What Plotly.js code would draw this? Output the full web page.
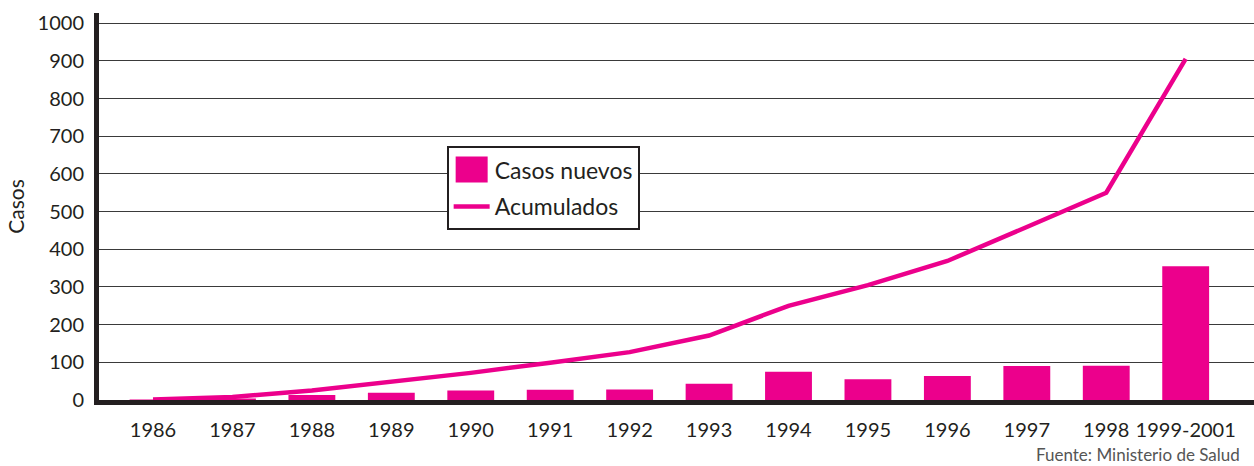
<!DOCTYPE html>
<html>
<head>
<meta charset="utf-8">
<script src="https://cdn.plot.ly/plotly-3.0.1.min.js"></script>
<style>html,body{margin:0;padding:0;background:#fff;}#chart{width:1254px;height:466px;}</style>
</head>
<body>
<div id="chart"></div>
<script>
const categories = ["1986","1987","1988","1989","1990","1991","1992","1993","1994","1995","1996","1997","1998","1999-2001"];
const casosNuevos = [1, 4, 13, 19, 25, 27, 28, 43, 75, 55, 64, 90, 91, 355];
const acumulados = [1, 8, 25, 47, 72, 99, 127, 171, 250, 305, 369, 459, 550, 905];
const yTicks = [0,100,200,300,400,500,600,700,800,900,1000];

const PINK = '#EC008C';
const FONT = 'Lato, "Open Sans", sans-serif';

const data = [
  {type:'bar', x:categories, y:casosNuevos, name:'Casos nuevos', legendgroup:'a',
   marker:{color:PINK, line:{width:0}}, width:0.59},
  {type:'scatter', mode:'lines', x:categories, y:acumulados, name:'Acumulados', legendgroup:'b',
   line:{color:PINK, width:4.5}}
];

const layout = {
  width:1254, height:466,
  margin:{l:99, r:0, t:13, b:66},
  paper_bgcolor:'#fff', plot_bgcolor:'#fff',
  font:{family:FONT, size:20, color:'#231f20'},
  showlegend:true,
  legend:{x:0.301, y:0.656, xanchor:'left', yanchor:'top',
    bgcolor:'#fff', bordercolor:'#231f20', borderwidth:2,
    traceorder:'grouped', tracegroupgap:4, itemwidth:36,
    font:{family:FONT, size:23, color:'#231f20'}},
  xaxis:{type:'category', range:[-0.68, 13.86], showgrid:false,
    showline:true, linecolor:'#231f20', linewidth:5,
    ticks:'outside', ticklen:8, tickcolor:'rgba(0,0,0,0)',
    tickfont:{family:FONT, size:20, color:'#231f20'}, zeroline:false, fixedrange:true},
  yaxis:{range:[0,1027], tickvals:yTicks, ticktext:yTicks.map(String),
    showgrid:true, gridcolor:'#3a3a3a', gridwidth:1,
    showline:true, linecolor:'#231f20', linewidth:5,
    ticks:'outside', ticklen:6, tickcolor:'rgba(0,0,0,0)',
    zeroline:false,
    tickfont:{family:FONT, size:20, color:'#231f20'},
    title:{text:'Casos', font:{family:FONT, size:21, color:'#231f20'}, standoff:9}},
  annotations:[{xref:'paper', yref:'paper', x:0.99, y:-0.172, xanchor:'right', yanchor:'bottom',
    text:'Fuente: Ministerio de Salud', showarrow:false,
    font:{family:FONT, size:17, color:'#555'}}]
};

Plotly.newPlot('chart', data, layout, {displayModeBar:false, staticPlot:true}).then(function(gd){
  const traces = gd.querySelectorAll('.legend .traces');
  if (traces.length) {
    const p = traces[0].querySelector('.legendpoints path');
    if (p) { p.setAttribute('d', 'M-16,-13H16V13H-16Z'); }
  }
});
</script>
</body>
</html>
